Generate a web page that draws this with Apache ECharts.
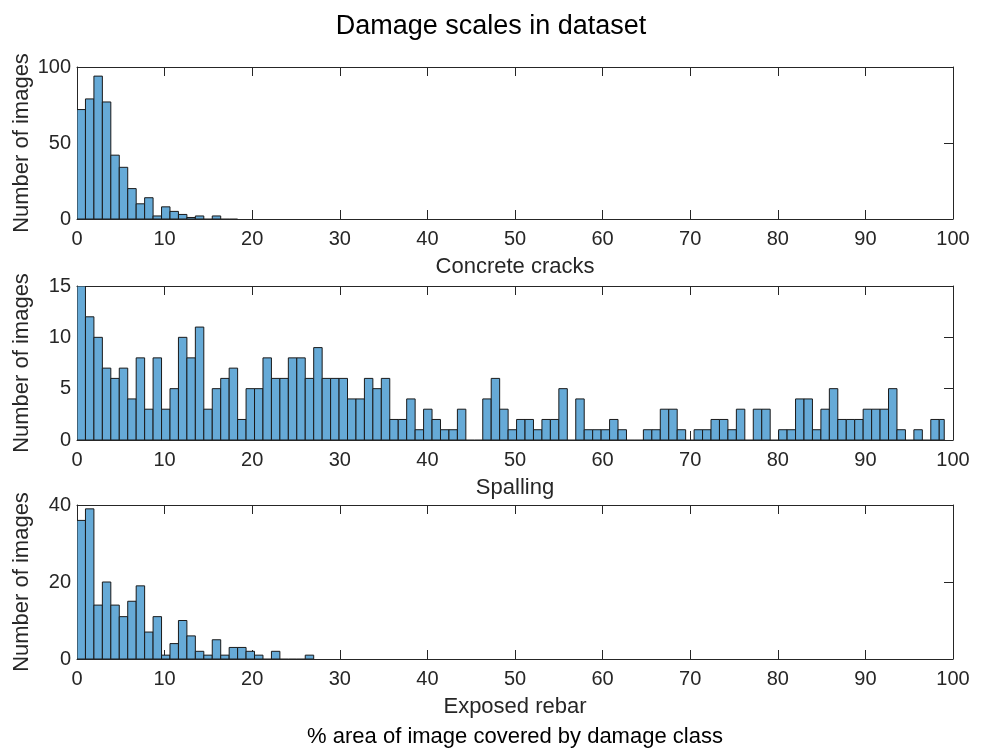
<!DOCTYPE html>
<html>
<head>
<meta charset="utf-8">
<script src="https://cdn.jsdelivr.net/npm/echarts@6/dist/echarts.min.js"></script>
<style>
html,body{margin:0;padding:0;background:#fff;}
#chart{width:982px;height:754px;}
</style>
</head>
<body>
<div id="chart"></div>
<script>
// ---- data (counts per histogram bin, bins start at 0) ----
const BIN_WIDTH = 0.965;          // width of one bin in % units
const SPALL_LAST_EDGE = 99.0;     // right edge of the last spalling bin
const PANEL_NAMES = ['Concrete cracks', 'Spalling', 'Exposed rebar'];
const Y_MAX = [100, 15, 40];
const Y_INTERVAL = [50, 5, 20];

const CRACKS = [72,79,94,77,42,34,20,10,14,2,8,5,3,1,2,0,2,0,0];
const SPALLING = [15,12,10,7,6,7,4,8,3,8,3,5,10,8,11,3,5,6,7,2,
                  5,5,8,6,6,8,8,6,9,6,6,6,4,4,6,5,6,2,2,4,
                  1,3,2,1,1,3,0,0,4,6,3,1,2,2,1,2,2,5,0,4,
                  1,1,1,2,1,0,0,1,1,3,3,1,0,1,1,2,2,1,3,0,
                  3,3,0,1,1,4,4,1,3,5,2,2,2,3,3,3,5,1,0,1,
                  0,2,2];
const REBAR = [36,39,14,20,14,11,15,19,7,11,1,4,10,6,2,1,5,1,3,3,2,1,0,2,0,0,0,1];

const SERIES_DATA = [CRACKS, SPALLING, REBAR];

function toBins(counts, lastEdge) {
  return counts.map((v, i) => {
    const x0 = i * BIN_WIDTH;
    let x1 = (i + 1) * BIN_WIDTH;
    if (lastEdge !== undefined && x1 > lastEdge) x1 = lastEdge;
    return [x0, x1, v];
  });
}

const FONT = 'Liberation Sans, Arial, Helvetica, sans-serif';
const AX = '#262626';
const FILL = '#66AAD7';
const EDGE = '#1a1a1a';
const TICK_FS = 20;
const NAME_FS = 22;

const grids = [
  {left: 77, right: 29, top: 67, height: 152, outerBoundsMode: 'none', containLabel: false},
  {left: 77, right: 29, top: 286, height: 154, outerBoundsMode: 'none', containLabel: false},
  {left: 77, right: 29, top: 505, height: 154, outerBoundsMode: 'none', containLabel: false}
];

const xAxes = [], yAxes = [], series = [];
for (let g = 0; g < 3; g++) {
  xAxes.push({
    type: 'value', gridIndex: g, min: 0, max: 100, interval: 10,
    position: 'bottom',
    name: PANEL_NAMES[g], nameLocation: 'middle', nameGap: 37, nameMoveOverlap: false,
    nameTextStyle: {fontFamily: FONT, fontSize: NAME_FS, color: AX},
    axisLine: {show: true, onZero: false, lineStyle: {color: AX, width: 1}},
    axisTick: {show: true, inside: true, length: 9, lineStyle: {color: AX}},
    axisLabel: {fontFamily: FONT, fontSize: TICK_FS, color: AX, margin: 10},
    splitLine: {show: false}
  });
  xAxes.push({
    type: 'value', gridIndex: g, min: 0, max: 100, interval: 10,
    position: 'top',
    axisLine: {show: true, onZero: false, lineStyle: {color: AX, width: 1}},
    axisTick: {show: true, inside: true, length: 9, lineStyle: {color: AX}},
    axisLabel: {show: false},
    splitLine: {show: false}
  });
  yAxes.push({
    type: 'value', gridIndex: g, min: 0, max: Y_MAX[g], interval: Y_INTERVAL[g],
    position: 'left',
    name: 'Number of images', nameLocation: 'middle', nameGap: 44, nameMoveOverlap: false,
    nameTextStyle: {fontFamily: FONT, fontSize: NAME_FS, color: AX},
    axisLine: {show: true, onZero: false, lineStyle: {color: AX, width: 1}},
    axisTick: {show: true, inside: true, length: 9, lineStyle: {color: AX}},
    axisLabel: {fontFamily: FONT, fontSize: TICK_FS, color: AX, margin: 6},
    splitLine: {show: false}
  });
  yAxes.push({
    type: 'value', gridIndex: g, min: 0, max: Y_MAX[g], interval: Y_INTERVAL[g],
    position: 'right',
    axisLine: {show: true, onZero: false, lineStyle: {color: AX, width: 1}},
    axisTick: {show: true, inside: true, length: 9, lineStyle: {color: AX}},
    axisLabel: {show: false},
    splitLine: {show: false}
  });
  series.push({
    type: 'custom',
    xAxisIndex: g * 2, yAxisIndex: g * 2,
    data: toBins(SERIES_DATA[g], g === 1 ? SPALL_LAST_EDGE : undefined),
    clip: true,
    renderItem: function (params, api) {
      const x0 = api.value(0), x1 = api.value(1), v = api.value(2);
      const p0 = api.coord([x0, v]);
      const p1 = api.coord([x1, 0]);
      if (v === 0) {
        return {type: 'line', shape: {x1: p0[0], y1: p1[1], x2: p1[0], y2: p1[1]},
                style: {stroke: EDGE, lineWidth: 1}};
      }
      return {
        type: 'rect',
        shape: {x: p0[0], y: p0[1], width: p1[0] - p0[0], height: p1[1] - p0[1]},
        style: {fill: FILL, stroke: EDGE, lineWidth: 1}
      };
    }
  });
}

const chart = echarts.init(document.getElementById('chart'), null, {renderer: 'canvas'});
chart.setOption({
  animation: false,
  backgroundColor: '#ffffff',
  title: {
    text: 'Damage scales in dataset', left: 'center', top: 8,
    textStyle: {fontFamily: FONT, fontSize: 27, fontWeight: 'normal', color: '#000'}
  },
  graphic: [{
    type: 'text', x: 515, y: 737,
    style: {text: '% area of image covered by damage class', fontFamily: FONT, fontSize: NAME_FS,
            fill: '#000', align: 'center', verticalAlign: 'middle'}
  }],
  grid: grids,
  xAxis: xAxes,
  yAxis: yAxes,
  series: series
});
</script>
</body>
</html>
